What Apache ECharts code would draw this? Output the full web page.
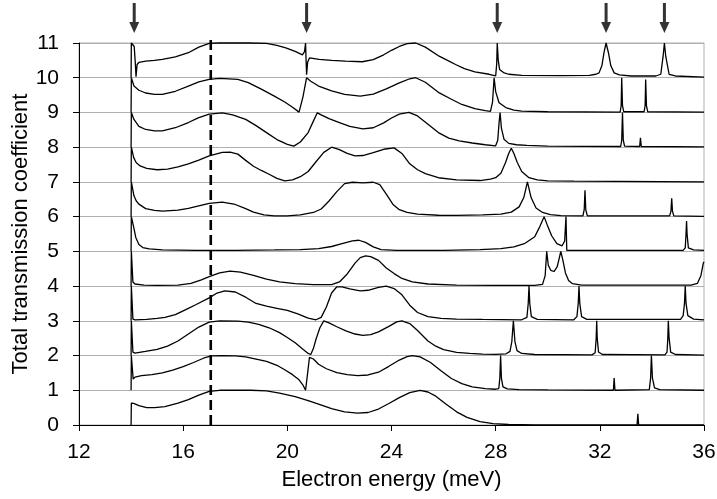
<!DOCTYPE html>
<html>
<head>
<meta charset="utf-8">
<script src="https://cdn.jsdelivr.net/npm/echarts@6/dist/echarts.min.js"></script>
<style>html,body{margin:0;padding:0;background:#fff}#c{width:717px;height:499px}</style>
</head>
<body>
<div id="c"></div>
<script>
// x tick labels / axis
const xTicks = [12, 16, 20, 24, 28, 32, 36];
const yTicks = [0,1,2,3,4,5,6,7,8,9,10,11];
// curve offsets
const offsets = [0,1,2,3,4,5,6,7,8,9,10];
// arrow energies (meV)
const arrowE = [14.12, 20.74, 28.06, 32.24, 34.48];
// dashed line energy and its vertical extent
const dashE = 17.06;
const dashY = [0, 11.17];

// transmission curves [energy, T] (T in 0..1, drawn on offset baseline)
const t0 = [[14.0,0],[14.01,0.63],[14.1,0.62],[14.3,0.56],[14.6,0.5],[14.9,0.5],[15.3,0.53],[15.8,0.63],[16.2,0.73],[16.6,0.86],[17.0,0.97],[17.4,1.0],[18.0,1.0],[18.6,1.0],[19.2,0.98],[19.7,0.92],[20.3,0.82],[20.8,0.7],[21.2,0.6],[21.7,0.47],[22.2,0.38],[22.7,0.34],[23.1,0.36],[23.5,0.46],[23.9,0.62],[24.3,0.79],[24.7,0.93],[25.1,1.0],[25.4,0.95],[25.7,0.83],[26.1,0.6],[26.5,0.38],[26.9,0.22],[27.4,0.1],[27.9,0.04],[28.5,0.015],[29.5,0.005],[30.5,0],[33.43,0],[33.46,0.32],[33.49,0],[36,0]];
const t1 = [[14.0,0],[14.01,1.0],[14.03,1.0],[14.08,0.32],[14.15,0.38],[14.4,0.42],[14.8,0.45],[15.2,0.5],[15.6,0.58],[16.0,0.68],[16.4,0.8],[16.8,0.93],[17.1,0.99],[17.5,1.0],[18.0,0.99],[18.4,0.96],[18.8,0.9],[19.2,0.83],[19.6,0.72],[19.9,0.59],[20.2,0.45],[20.45,0.3],[20.6,0.15],[20.7,0.0],[20.78,0.5],[20.85,0.95],[20.9,1.0],[21.0,0.9],[21.2,0.75],[21.5,0.62],[21.9,0.51],[22.3,0.45],[22.7,0.42],[23.1,0.44],[23.5,0.52],[23.9,0.69],[24.3,0.87],[24.6,0.97],[24.8,1.0],[25.1,0.96],[25.5,0.8],[25.9,0.56],[26.3,0.34],[26.7,0.19],[27.1,0.1],[27.6,0.05],[28.0,0.03],[28.12,0.05],[28.16,0.35],[28.19,1.0],[28.22,0.35],[28.28,0.1],[28.45,0.04],[28.9,0.02],[30,0.01],[32.52,0.0],[32.55,0.35],[32.58,0.0],[33.9,0.02],[33.95,0.35],[33.98,1.0],[34.02,0.35],[34.1,0.07],[34.3,0.02],[36,0]];
const t2 = [[14.0,0],[14.01,1.0],[14.03,1.0],[14.07,0.1],[14.15,0.07],[14.55,0.12],[15.0,0.18],[15.4,0.27],[15.8,0.42],[16.2,0.62],[16.6,0.82],[17.0,0.96],[17.4,1.0],[18.1,0.99],[18.5,0.96],[18.9,0.9],[19.3,0.8],[19.7,0.66],[20.0,0.52],[20.3,0.37],[20.6,0.18],[20.8,0.06],[20.9,0.03],[21.0,0.2],[21.1,0.47],[21.25,0.8],[21.4,1.0],[21.6,0.94],[21.9,0.83],[22.25,0.71],[22.6,0.62],[22.9,0.58],[23.2,0.6],[23.5,0.68],[23.9,0.84],[24.2,0.97],[24.4,1.0],[24.7,0.92],[25.0,0.72],[25.4,0.42],[25.7,0.27],[26.0,0.17],[26.5,0.09],[27.0,0.06],[27.5,0.04],[28.0,0.035],[28.4,0.05],[28.55,0.12],[28.62,0.4],[28.68,1.0],[28.74,0.4],[28.82,0.14],[29.0,0.06],[29.5,0.03],[31.7,0.02],[31.82,0.08],[31.86,0.5],[31.88,1.0],[31.9,0.5],[31.95,0.1],[32.1,0.03],[34.5,0.02],[34.58,0.1],[34.61,0.5],[34.63,1.0],[34.66,0.5],[34.72,0.1],[34.9,0.03],[36,0.01]];
const t3 = [[14.0,0],[14.01,1.0],[14.03,1.0],[14.07,0.05],[14.15,0.03],[14.6,0.04],[15.0,0.07],[15.3,0.1],[15.7,0.18],[16.1,0.32],[16.5,0.47],[17.0,0.66],[17.3,0.8],[17.6,0.86],[18.0,0.83],[18.4,0.68],[18.8,0.5],[19.2,0.42],[19.6,0.36],[20.0,0.3],[20.4,0.2],[20.8,0.08],[21.1,0.03],[21.3,0.1],[21.5,0.4],[21.7,0.8],[21.9,0.98],[22.1,0.98],[22.4,0.92],[22.8,0.86],[23.1,0.88],[23.5,0.96],[23.8,1.0],[24.1,0.93],[24.4,0.75],[24.7,0.45],[25.0,0.24],[25.4,0.12],[25.9,0.07],[26.5,0.05],[27.5,0.04],[29.0,0.03],[29.2,0.1],[29.25,0.5],[29.28,1.0],[29.31,0.5],[29.37,0.12],[29.6,0.04],[31.0,0.03],[31.12,0.12],[31.17,0.5],[31.2,1.0],[31.23,0.5],[31.3,0.12],[31.5,0.04],[35.1,0.04],[35.2,0.15],[35.25,0.5],[35.28,1.0],[35.31,0.5],[35.38,0.15],[35.6,0.05],[36,0.03]];
const t4 = [[14.0,0],[14.01,1.0],[14.03,1.0],[14.07,0.12],[14.15,0.06],[14.5,0.03],[15.0,0.02],[15.8,0.03],[16.3,0.08],[16.7,0.18],[17.0,0.27],[17.4,0.38],[17.8,0.43],[18.2,0.4],[18.7,0.31],[19.2,0.2],[19.7,0.12],[20.3,0.07],[21.0,0.04],[21.7,0.04],[22.0,0.12],[22.3,0.35],[22.6,0.66],[22.8,0.82],[23.0,0.87],[23.2,0.85],[23.5,0.74],[23.8,0.52],[24.1,0.36],[24.4,0.22],[24.8,0.12],[25.4,0.06],[26.5,0.03],[28.0,0.02],[29.5,0.02],[29.8,0.05],[29.9,0.3],[29.96,1.0],[30.02,0.6],[30.12,0.45],[30.24,0.42],[30.36,0.55],[30.44,0.8],[30.5,1.0],[30.58,0.75],[30.68,0.38],[30.8,0.16],[30.95,0.07],[31.3,0.03],[35.5,0.03],[35.75,0.08],[35.88,0.3],[35.97,0.65],[36,0.7]];
const t5 = [[14.0,0],[14.01,1.0],[14.04,1.0],[14.1,0.7],[14.18,0.4],[14.3,0.2],[14.45,0.11],[14.7,0.07],[15.2,0.04],[16.5,0.03],[18.0,0.03],[19.5,0.04],[20.5,0.05],[21.2,0.08],[21.7,0.14],[22.1,0.22],[22.5,0.3],[22.75,0.32],[23.0,0.26],[23.3,0.13],[23.6,0.05],[24.2,0.03],[26,0.03],[27.4,0.05],[28.2,0.08],[28.7,0.13],[29.1,0.22],[29.5,0.42],[29.7,0.72],[29.86,1.0],[30.0,0.72],[30.15,0.45],[30.35,0.22],[30.55,0.16],[30.65,0.3],[30.7,1.0],[30.73,0.03],[30.9,0.03],[35.2,0.03],[35.28,0.1],[35.31,0.5],[35.33,0.87],[35.35,0.5],[35.4,0.1],[35.6,0.04],[36,0.03]];
const t6 = [[14.0,0],[14.01,1.0],[14.04,1.0],[14.11,0.6],[14.2,0.45],[14.3,0.36],[14.56,0.23],[14.9,0.18],[15.2,0.16],[15.8,0.19],[16.2,0.24],[16.6,0.31],[17.0,0.38],[17.5,0.42],[18.0,0.35],[18.4,0.23],[18.7,0.13],[19.1,0.05],[19.5,0.02],[20.0,0.02],[20.5,0.05],[21.0,0.12],[21.3,0.22],[21.6,0.45],[21.9,0.72],[22.2,0.95],[22.5,0.99],[22.9,0.97],[23.3,0.99],[23.55,0.92],[23.8,0.65],[24.05,0.36],[24.3,0.2],[24.6,0.12],[25.0,0.07],[25.8,0.04],[26.5,0.035],[27.5,0.05],[28.2,0.07],[28.6,0.13],[28.9,0.28],[29.08,0.55],[29.22,1.0],[29.36,0.55],[29.55,0.25],[29.8,0.12],[30.1,0.06],[30.5,0.03],[31.35,0.02],[31.4,0.2],[31.43,0.76],[31.46,0.2],[31.52,0.02],[34.68,0.02],[34.73,0.15],[34.76,0.53],[34.79,0.15],[34.84,0.02],[36,0.01]];
const t7 = [[14.0,0],[14.01,1.0],[14.04,1.0],[14.1,0.7],[14.2,0.55],[14.35,0.46],[14.6,0.39],[15.0,0.35],[15.4,0.37],[15.8,0.43],[16.2,0.52],[16.6,0.63],[17.0,0.75],[17.5,0.85],[17.8,0.86],[18.1,0.8],[18.4,0.62],[18.7,0.45],[19.0,0.33],[19.3,0.22],[19.6,0.1],[19.9,0.03],[20.2,0.06],[20.5,0.15],[20.8,0.3],[21.1,0.58],[21.4,0.85],[21.7,1.0],[22.0,0.93],[22.3,0.82],[22.6,0.75],[22.9,0.76],[23.3,0.84],[23.7,0.94],[24.1,0.98],[24.4,0.82],[24.7,0.52],[25.0,0.35],[25.3,0.24],[25.8,0.12],[26.5,0.06],[27.4,0.04],[27.8,0.08],[28.0,0.12],[28.2,0.25],[28.38,0.56],[28.5,0.82],[28.6,0.97],[28.7,0.82],[28.83,0.56],[29.0,0.3],[29.28,0.12],[29.6,0.06],[30.0,0.03],[31,0.02],[36,0.0]];
const t8 = [[14.0,0],[14.01,1.0],[14.04,1.0],[14.11,0.8],[14.3,0.6],[14.56,0.51],[14.9,0.47],[15.2,0.47],[15.7,0.56],[16.2,0.71],[16.6,0.85],[17.0,0.95],[17.5,0.99],[17.9,0.93],[18.4,0.8],[18.8,0.62],[19.2,0.42],[19.6,0.22],[20.0,0.08],[20.25,0.03],[20.5,0.15],[20.8,0.42],[21.0,0.75],[21.15,0.99],[21.3,0.93],[21.6,0.82],[22.0,0.71],[22.4,0.6],[22.9,0.53],[23.3,0.56],[23.7,0.7],[24.0,0.84],[24.3,0.95],[24.67,1.0],[25.0,0.9],[25.4,0.66],[25.8,0.42],[26.2,0.26],[26.6,0.18],[27.1,0.12],[27.6,0.07],[28.0,0.04],[28.08,0.2],[28.13,0.7],[28.17,1.0],[28.22,0.55],[28.32,0.23],[28.5,0.11],[28.8,0.07],[29.2,0.05],[30,0.03],[32.8,0.02],[32.84,0.2],[32.87,1.0],[32.9,0.2],[32.95,0.03],[33.53,0.02],[33.56,0.27],[33.59,0.02],[36,0.01]];
const t9 = [[14.0,0],[14.01,1.0],[14.04,1.0],[14.11,0.76],[14.3,0.64],[14.56,0.56],[14.9,0.52],[15.2,0.52],[15.7,0.61],[16.2,0.76],[16.6,0.88],[17.0,0.95],[17.4,0.98],[18.1,0.95],[18.5,0.86],[19.0,0.67],[19.5,0.47],[19.9,0.3],[20.2,0.15],[20.45,0.01],[20.6,0.45],[20.74,1.0],[20.9,0.9],[21.2,0.76],[21.7,0.62],[22.2,0.52],[22.8,0.47],[23.3,0.53],[23.8,0.68],[24.3,0.85],[24.7,0.97],[24.93,1.0],[25.3,0.87],[25.8,0.58],[26.3,0.38],[26.7,0.23],[27.2,0.11],[27.6,0.05],[27.8,0.03],[27.88,0.3],[27.94,1.0],[28.0,0.6],[28.13,0.28],[28.39,0.14],[28.7,0.07],[29.0,0.04],[30,0.02],[32.78,0.01],[32.82,0.2],[32.84,1.0],[32.87,0.2],[32.92,0.02],[33.7,0.02],[33.74,0.2],[33.76,0.95],[33.79,0.2],[33.84,0.02],[36,0.01]];
const t10 = [[14.0,0],[14.01,1.0],[14.05,1.0],[14.12,0.9],[14.16,0.45],[14.19,0.03],[14.23,0.38],[14.3,0.44],[14.56,0.48],[14.9,0.5],[15.2,0.53],[15.7,0.6],[16.2,0.72],[16.6,0.88],[17.0,0.99],[17.4,1.0],[18.5,1.0],[19.2,0.99],[19.6,0.93],[19.94,0.86],[20.3,0.76],[20.58,0.66],[20.66,0.75],[20.7,1.0],[20.72,0.5],[20.74,0.09],[20.78,0.45],[20.85,0.57],[21.22,0.53],[21.7,0.5],[22.24,0.48],[22.88,0.46],[23.3,0.52],[23.7,0.66],[24.0,0.79],[24.3,0.9],[24.6,0.98],[24.93,1.0],[25.3,0.88],[25.83,0.62],[26.15,0.5],[26.46,0.38],[26.8,0.26],[27.2,0.17],[27.75,0.1],[28.0,0.05],[28.04,0.4],[28.06,1.0],[28.1,0.5],[28.15,0.24],[28.3,0.15],[28.5,0.1],[29.0,0.07],[30.5,0.06],[31.6,0.07],[31.85,0.1],[31.97,0.14],[32.08,0.35],[32.16,0.72],[32.24,1.0],[32.33,0.72],[32.42,0.35],[32.55,0.14],[32.75,0.08],[33.2,0.05],[34.15,0.05],[34.34,0.1],[34.43,0.62],[34.48,1.0],[34.53,0.62],[34.66,0.1],[34.9,0.05],[36,0.02]];

const curves = [t0,t1,t2,t3,t4,t5,t6,t7,t8,t9,t10];

const FONT = "'Liberation Sans', Arial, Helvetica, sans-serif";
const chart = echarts.init(document.getElementById('c'), null, {renderer:'canvas'});

const series = curves.map((c, i) => ({
  type: 'line',
  data: c.map(p => [p[0], p[1] + offsets[i]]),
  showSymbol: false,
  symbol: 'none',
  clip: false,
  lineStyle: {color: '#000', width: 1.3},
  z: 5,
  silent: true
}));

// dashed vertical line
series.push({
  type: 'line',
  data: dashY.map(y => [dashE, y]),
  showSymbol: false,
  symbol: 'none',
  clip: false,
  lineStyle: {color: '#000', width: 2.6, type: [10, 5]},
  z: 6,
  silent: true
});

// arrows
series.push({
  type: 'scatter',
  data: arrowE.map(e => [e, yTicks[yTicks.length-1]]),
  symbol: 'path://M4,0 L7,0 L7,19 L10.5,19 L5.5,30 L0.5,19 L4,19 Z',
  symbolSize: [10, 30],
  symbolOffset: [0, -25],
  clip: false,
  itemStyle: {color: '#000'},
  silent: true,
  z: 6
});

chart.setOption({
  animation: false,
  backgroundColor: '#fff',
  grid: {left: 79, right: 13, top: 43, bottom: 74, show: true, borderColor: '#b0b0b0', borderWidth: 1, containLabel: false, outerBoundsMode: 'none'},
  xAxis: {
    type: 'value', min: xTicks[0], max: xTicks[xTicks.length-1], interval: 4,
    axisLine: {show: true, lineStyle: {color: '#000', width: 1}},
    axisTick: {show: true, inside: false, length: 6, lineStyle: {color: '#000'}},
    axisLabel: {fontSize: 21, color: '#000', fontFamily: FONT, margin: 17},
    splitLine: {show: false},
    name: 'Electron energy (meV)', nameLocation: 'middle', nameGap: 44, nameMoveOverlap: false,
    nameTextStyle: {fontSize: 22, color: '#000', fontFamily: FONT}
  },
  yAxis: {
    type: 'value', min: yTicks[0], max: yTicks[yTicks.length-1], interval: 1,
    axisLine: {show: true, lineStyle: {color: '#000', width: 1}},
    axisTick: {show: true, inside: false, length: 6, lineStyle: {color: '#000'}},
    axisLabel: {fontSize: 21, color: '#000', fontFamily: FONT, margin: 20},
    splitLine: {show: true, lineStyle: {color: '#b0b0b0', width: 1}},
    name: 'Total transmission coefficient', nameLocation: 'middle', nameRotate: 90, nameGap: 47, nameMoveOverlap: false,
    nameTextStyle: {fontSize: 22, color: '#000', fontFamily: FONT}
  },
  series: series
});
</script>
</body>
</html>
